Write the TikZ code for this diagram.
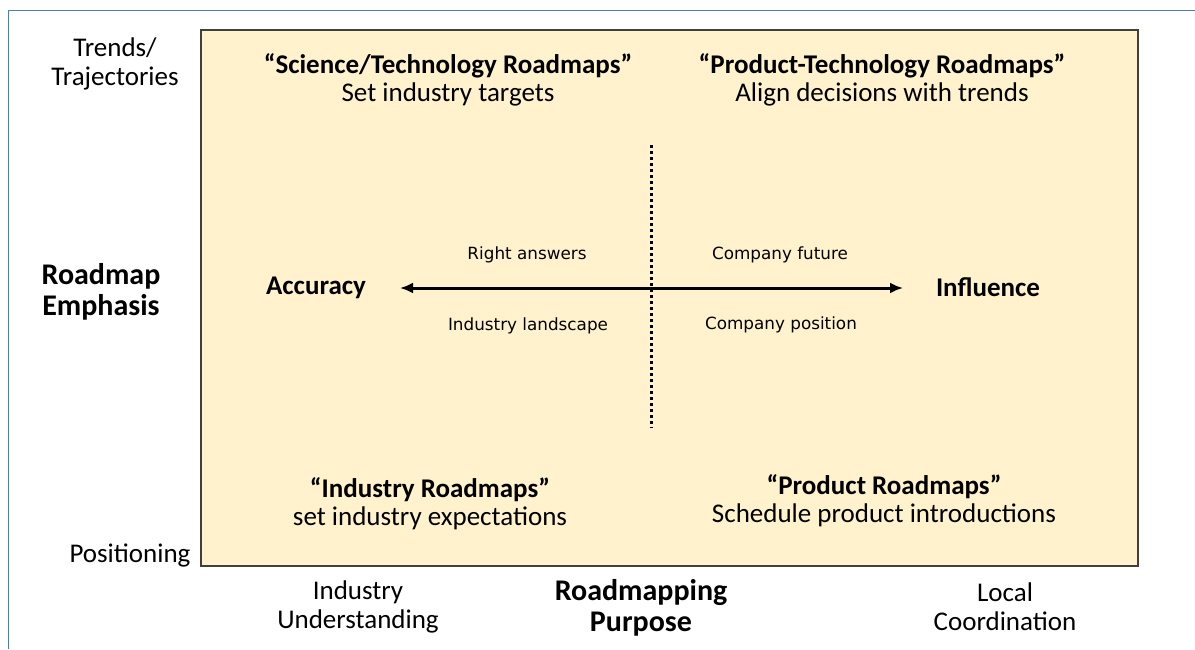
\documentclass[tikz,border=0pt]{standalone}
\usepackage{fontspec}
\setmainfont{Carlito}
\newfontfamily\notefont{DejaVu Sans}
\usetikzlibrary{arrows.meta}
\definecolor{quadfill}{HTML}{FFF2CC}
\definecolor{quadline}{HTML}{3F3F3F}
\definecolor{frameblue}{HTML}{4A7EBB}
\tikzset{
  axistext/.style={align=center, font=\fontsize{27}{29}\selectfont},
  axistitle/.style={align=center, font=\bfseries\fontsize{30}{31}\selectfont},
  quadtext/.style={align=center, font=\fontsize{27}{28}\selectfont},
  poletext/.style={font=\bfseries\fontsize{27}{28}\selectfont},
  notetext/.style={font=\notefont\fontsize{16.8}{18}\selectfont},
}

\begin{document}
\begin{tikzpicture}[x=1pt,y=-1pt]
\useasboundingbox (0,0) rectangle (1195,649);
% рамка
\draw [frameblue, line width=1pt] (1195,10) -- (8,10) -- (8,649);
% поле
\draw [quadline, fill=quadfill, line width=1.6pt] (201,30) rectangle (1138,566);
% ось слева
\node [axistext] (trends) at (115,64) {Trends/\\Trajectories};
\node [axistitle] (emphasis) at (101,292) {Roadmap\\Emphasis};
\node [axistext] (positioning) at (130,555) {Positioning};
% ось снизу
\node [axistext] (understanding) at (358,607) {Industry\\Understanding};
\node [axistitle] (purpose) at (641,608) {Roadmapping\\Purpose};
\node [axistext] (coordination) at (1005,607) {Local\\Coordination};
% квадранты
\node [quadtext] (scitech) at (448,80) {\textbf{“Science/Technology Roadmaps”}\\Set industry targets};
\node [quadtext] (prodtech) at (882,80) {\textbf{“Product-Technology Roadmaps”}\\Align decisions with trends};
\node [quadtext] (industry) at (430,504) {\textbf{“Industry Roadmaps”}\\set industry expectations};
\node [quadtext] (product) at (884,501) {\textbf{“Product Roadmaps”}\\Schedule product introductions};
% полюса
\node [poletext] (accuracy) at (316,288) {Accuracy};
\node [poletext] (influence) at (988,287) {Influence};
\node [notetext] (answers) at (527,255) {Right answers};
\node [notetext] (landscape) at (528,326) {Industry landscape};
\node [notetext] (future) at (780,255) {Company future};
\node [notetext] (position) at (781,325) {Company position};
% стрелка и пунктир
\coordinate (arrL) at (400,288);
\coordinate (arrR) at (903,288);
\coordinate (dotT) at (651,145);
\coordinate (dotB) at (651,428);
\draw [line width=3pt, dash pattern=on 3pt off 3pt] (dotT) -- (dotB);
\draw [line width=3pt, {Latex[length=13pt,width=11pt]}-{Latex[length=13pt,width=11pt]}] (arrL) -- (arrR);
\end{tikzpicture}
\end{document}
